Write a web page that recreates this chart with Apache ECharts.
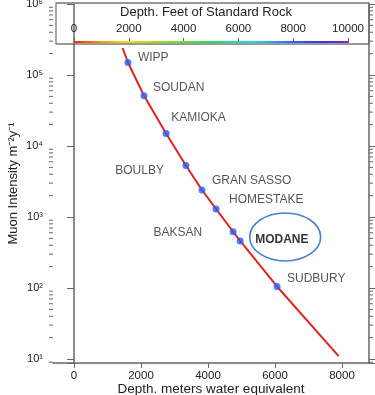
<!DOCTYPE html>
<html><head><meta charset="utf-8">
<script src="https://cdn.jsdelivr.net/npm/echarts@6/dist/echarts.min.js"></script>
<style>html,body{margin:0;padding:0;background:#fff}#c{width:375px;height:395px}</style>
</head><body><div id="c"></div>
<script>
// ---- data ----
const siteNames = ['WIPP','SOUDAN','KAMIOKA','BOULBY','GRAN SASSO','HOMESTAKE','BAKSAN','MODANE','SUDBURY'];
const siteDepth = [1610, 2090, 2750, 3340, 3820, 4240, 4750, 4960, 6060];
const siteIntensity = [1.5e5, 5.1e4, 1.5e4, 5.3e3, 2.4e3, 1.3e3, 620, 460, 105];
const curveDepth = [1450, 1610, 2090, 2750, 3340, 3820, 4240, 4750, 4960, 6060, 7900];
const curveIntensity = [2.4e5, 1.5e5, 5.1e4, 1.5e4, 5.3e3, 2.4e3, 1.3e3, 620, 460, 105, 11];
const xTickValues = [0, 2000, 4000, 6000, 8000];
const feetTickValues = [0, 2000, 4000, 6000, 8000, 10000];
const minorMantissas = [2, 3, 4, 5, 6, 7, 8, 9];
const minorDecades = [10, 100, 1000, 10000, 100000];

// ---- styles ----
const labelAlign = ['left','left','left','right','left','left','right','left','left'];
const labelOffset = [[10,-5],[9,-8],[5,-16],[-22,5],[10,-9],[13,-9],[-31,1],[15,-1],[10,-8]];
const FONT = 'Liberation Sans, Arial, sans-serif';
const X_MIN = -627, X_MAX = 8806, Y_MIN = 8.78, Y_MAX = 1e6;
const sup = ['⁰','¹','²','³','⁴','⁵','⁶'];

const minorVals = [9];
minorDecades.forEach(d => minorMantissas.forEach(m => minorVals.push(m * d)));

const chart = echarts.init(document.getElementById('c'), null, {renderer: 'canvas'});

const siteData = siteNames.map((n, i) => ({
  value: [siteDepth[i], siteIntensity[i]],
  name: n,
  label: {
    show: true, position: 'inside', formatter: n,
    align: labelAlign[i], verticalAlign: 'middle', offset: labelOffset[i],
    fontSize: 12, fontFamily: FONT,
    color: n === 'MODANE' ? '#000' : '#2a2a2a',
    fontWeight: n === 'MODANE' ? 'bold' : 'normal'
  }
}));

const plain = v => String(Math.round(v));

chart.setOption({
  animation: false,
  backgroundColor: '#fff',
  textStyle: {fontFamily: FONT},
  grid: [
    {left: 53, right: 6, top: 4, bottom: 32, containLabel: false, outerBoundsMode: 'none'},
    {left: 74, width: 274, top: 42, height: 1, outerBoundsMode: 'none'}
  ],
  xAxis: [
    {
      type: 'value', gridIndex: 0, min: X_MIN, max: X_MAX,
      name: 'Depth. meters water equivalent', nameLocation: 'middle', nameGap: 19,
      nameMoveOverlap: false,
      nameTextStyle: {fontSize: 13.5, color: '#222', fontFamily: FONT},
      axisLine: {show: true, lineStyle: {color: '#666', width: 1.5}},
      axisTick: {show: true, customValues: xTickValues, length: 5, lineStyle: {color: '#666'}},
      axisLabel: {customValues: xTickValues, formatter: plain, fontSize: 11.5, color: '#222', margin: 7, fontFamily: FONT},
      splitLine: {show: false}
    },
    {
      type: 'value', gridIndex: 1, min: 0, max: 10000, interval: 2000, position: 'top', z: 3,
      axisLine: {show: false},
      axisTick: {show: true, customValues: feetTickValues, length: 5, lineStyle: {color: '#666'}},
      axisLabel: {customValues: feetTickValues, formatter: plain, fontSize: 11.5, color: '#222', margin: 7, fontFamily: FONT},
      splitLine: {show: false}
    }
  ],
  yAxis: [
    {
      type: 'log', gridIndex: 0, min: Y_MIN, max: Y_MAX, position: 'left',
      name: 'Muon Intensity m⁻²y⁻¹', nameLocation: 'middle', nameGap: 33, nameRotate: 90,
      nameMoveOverlap: false,
      nameTextStyle: {fontSize: 13, color: '#222', fontFamily: FONT},
      axisLine: {show: true, lineStyle: {color: '#666', width: 1.5}},
      axisTick: {show: true, length: 7, lineStyle: {color: '#666'}},
      axisLabel: {
        fontSize: 11, color: '#222', margin: 10, fontFamily: FONT,
        formatter: v => {
          const l = Math.log10(v), e = Math.round(l);
          return Math.abs(l - e) < 1e-6 ? '10' + sup[e] : '';
        }
      },
      splitLine: {show: false}
    },
    {
      type: 'log', gridIndex: 0, min: Y_MIN, max: Y_MAX, position: 'right',
      axisLine: {show: true, lineStyle: {color: '#666', width: 1.5}},
      axisTick: {show: true, length: 6, lineStyle: {color: '#666'}},
      axisLabel: {show: false},
      splitLine: {show: false}
    },
    {type: 'value', gridIndex: 1, min: 0, max: 1, show: false}
  ],
  graphic: [
    {id: 'box', type: 'rect', z: 0, shape: {x: 56, y: 3, width: 313, height: 41},
     style: {fill: '#fff', stroke: '#777', lineWidth: 1.3}},
    {id: 'boxTitle', type: 'text', z: 5, x: 206, y: 12,
     style: {text: 'Depth. Feet of Standard Rock', fill: '#222', font: '13px ' + FONT,
             textAlign: 'center', textVerticalAlign: 'middle'}}
  ],
  series: [
    {
      type: 'line', xAxisIndex: 0, yAxisIndex: 0, z: 2,
      data: curveDepth.map((d, i) => [d, curveIntensity[i]]),
      showSymbol: false, smooth: false,
      lineStyle: {color: '#e02424', width: 2}
    },
    {
      type: 'scatter', xAxisIndex: 0, yAxisIndex: 0, z: 3,
      data: siteData, symbolSize: 7,
      itemStyle: {color: '#2a5cf0'}
    },
    {
      type: 'custom', xAxisIndex: 0, yAxisIndex: 0, clip: false, z: 1,
      data: minorVals.map(v => [X_MIN, v]),
      renderItem: (params, api) => {
        const v = api.value(1);
        const pl = api.coord([X_MIN, v]);
        const pr = api.coord([X_MAX, v]);
        const st = {stroke: '#666', lineWidth: 1};
        return {type: 'group', children: [
          {type: 'line', shape: {x1: pl[0] - 4, y1: pl[1], x2: pl[0], y2: pl[1]}, style: st},
          {type: 'line', shape: {x1: pr[0], y1: pr[1], x2: pr[0] + 4, y2: pr[1]}, style: st}
        ]};
      }
    },
    {
      type: 'line', xAxisIndex: 1, yAxisIndex: 2, z: 4,
      data: [[0, 1], [10000, 1]], showSymbol: false,
      lineStyle: {width: 2, color: new echarts.graphic.LinearGradient(0, 0, 1, 0, [
        {offset: 0, color: '#ff1a1a'},
        {offset: 0.1, color: '#ff8c00'},
        {offset: 0.2, color: '#f0e000'},
        {offset: 0.35, color: '#80e020'},
        {offset: 0.5, color: '#20e060'},
        {offset: 0.65, color: '#20d8e0'},
        {offset: 0.8, color: '#3060ff'},
        {offset: 0.9, color: '#4030e0'},
        {offset: 1, color: '#9020e0'}
      ])}
    }
  ]
});

// ellipse annotation around MODANE, placed relative to its point
const mi = siteNames.indexOf('MODANE');
const mp = chart.convertToPixel({seriesIndex: 1}, [siteDepth[mi], siteIntensity[mi]]);
chart.setOption({graphic: [
  {id: 'modaneRing', type: 'ellipse', z: 5,
   shape: {cx: mp[0] + 45, cy: mp[1] - 4, rx: 35.5, ry: 24},
   style: {fill: 'none', stroke: '#4a80cc', lineWidth: 1.6}}
]});
</script>
</body></html>
